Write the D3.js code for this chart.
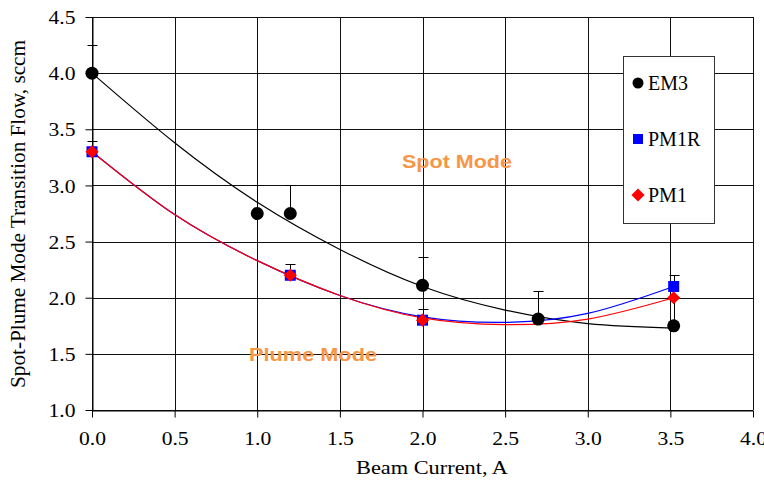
<!DOCTYPE html>
<html>
<head>
<meta charset="utf-8">
<script src="https://cdn.jsdelivr.net/npm/d3@7"></script>
<style>
  body { margin: 0; background: #fff; }
  svg text { font-family: "Liberation Serif", "Times New Roman", Times, "DejaVu Serif", serif; }
</style>
</head>
<body>
<svg id="chart" width="764" height="480"></svg>
<script>
// measured points
var em3_x   = [0, 1.0, 1.2, 2.0, 2.7, 3.52],
    em3_y   = [4.0, 2.75, 2.75, 2.11, 1.81, 1.75],
    em3_err = [0.25, 0.25, 0.25, 0.25, 0.25, 0.25];

var pm1r_x   = [0, 1.2, 2.0, 3.52],
    pm1r_y   = [3.3, 2.2, 1.8, 2.1],
    pm1r_err = [0.1, 0.1, 0.1, 0.1];

var pm1_x = [0, 1.2, 2.0, 3.52],
    pm1_y = [3.3, 2.2, 1.8, 2.0];

// trend lines
var trend_x      = [0, 0.5, 1.0, 1.5, 2.0, 2.5, 3.0, 3.52],
    em3_trend    = [4.0, 3.38, 2.85, 2.43, 2.10, 1.89, 1.77, 1.73],
    pm1r_trend   = [3.3, 2.74, 2.33, 2.02, 1.83, 1.78, 1.86, 2.1],
    pm1_trend    = [3.3, 2.74, 2.33, 2.02, 1.82, 1.76, 1.81, 2.0];

var x_ticks = [0, 0.5, 1.0, 1.5, 2.0, 2.5, 3.0, 3.5, 4.0],
    y_ticks = [1.0, 1.5, 2.0, 2.5, 3.0, 3.5, 4.0, 4.5];

var legend_names = ["EM3", "PM1R", "PM1"];

var serif = "'Liberation Serif', 'Times New Roman', Times, 'DejaVu Serif', serif";

var svg = d3.select("#chart");

var plot_left = 92, plot_right = 753, plot_top = 17, plot_bottom = 410;

var x_scale = d3.scaleLinear().domain([0, 4]).range([plot_left, plot_right]),
    y_scale = d3.scaleLinear().domain([1, 4.5]).range([plot_bottom, plot_top]);

// grid
var grid = svg.append("g");
grid.selectAll(".vgrid")
    .data(x_ticks)
    .enter()
    .append("line")
    .attr("x1", d=>Math.round(x_scale(d)) + 0.5)
    .attr("x2", d=>Math.round(x_scale(d)) + 0.5)
    .attr("y1", plot_top)
    .attr("y2", plot_bottom)
    .style("stroke", "#111")
    .style("stroke-width", 1);
grid.selectAll(".hgrid")
    .data(y_ticks)
    .enter()
    .append("line")
    .attr("x1", plot_left)
    .attr("x2", plot_right)
    .attr("y1", d=>Math.round(y_scale(d)) + 0.5)
    .attr("y2", d=>Math.round(y_scale(d)) + 0.5)
    .style("stroke", "#111")
    .style("stroke-width", 1);

// axes
var x_axis = svg.append("g")
    .attr("transform", "translate(0," + (plot_bottom + 0.5) + ")")
    .call(d3.axisBottom(x_scale).tickValues(x_ticks).tickFormat(d3.format(".1f")).tickSizeInner(7).tickSizeOuter(0).tickPadding(14));
var y_axis = svg.append("g")
    .attr("transform", "translate(" + (plot_left + 0.5) + ",0)")
    .call(d3.axisLeft(y_scale).tickValues(y_ticks).tickFormat(d3.format(".1f")).tickSizeInner(7).tickSizeOuter(0).tickPadding(10));

[x_axis, y_axis].forEach(a=>{
	a.attr("font-family", null).attr("font-size", null);
	a.select(".domain").style("stroke", "#000");
	a.selectAll(".tick line").style("stroke", "#000");
	a.selectAll(".tick text")
	 .style("font-family", serif)
	 .style("font-size", "19px")
	 .style("fill", "#000")
	 .attr("textLength", 27)
	 .attr("lengthAdjust", "spacingAndGlyphs");
});
y_axis.selectAll(".tick text").attr("dy", "0.35em");

// axis titles
svg.append("text")
   .attr("x", 432)
   .attr("y", 474)
   .attr("text-anchor", "middle")
   .attr("textLength", 152)
   .attr("lengthAdjust", "spacingAndGlyphs")
   .style("font-family", serif)
   .style("font-size", "19px")
   .text("Beam Current, A");
svg.append("text")
   .attr("transform", "translate(25,214) rotate(-90)")
   .attr("text-anchor", "middle")
   .attr("textLength", 348)
   .attr("lengthAdjust", "spacingAndGlyphs")
   .style("font-family", serif)
   .style("font-size", "20px")
   .text("Spot-Plume Mode Transition Flow, sccm");

// trend lines
var line = d3.line()
    .x(d=>x_scale(d[0]))
    .y(d=>y_scale(d[1]))
    .curve(d3.curveNatural);

[[em3_trend, "#000"], [pm1r_trend, "#0000ff"], [pm1_trend, "#ff0000"]].forEach(t=>{
	svg.append("path")
	   .attr("d", line(trend_x.map((x, i)=>[x, t[0][i]])))
	   .style("fill", "none")
	   .style("stroke", t[1])
	   .style("stroke-width", 1.2);
});

// region labels
svg.append("text")
   .attr("x", 457).attr("y", 168)
   .attr("text-anchor", "middle")
   .attr("textLength", 110)
   .attr("lengthAdjust", "spacingAndGlyphs")
   .style("font-family", "'Liberation Sans', Arial, sans-serif")
   .style("font-weight", "bold")
   .style("font-size", "18px")
   .style("fill", "#f79646")
   .text("Spot Mode");
svg.append("text")
   .attr("x", 313).attr("y", 361)
   .attr("text-anchor", "middle")
   .attr("textLength", 128)
   .attr("lengthAdjust", "spacingAndGlyphs")
   .style("font-family", "'Liberation Sans', Arial, sans-serif")
   .style("font-weight", "bold")
   .style("font-size", "18px")
   .style("fill", "#f79646")
   .text("Plume Mode");

// error bars (plus side only)
function error_bars (xs, ys, errs) {
	var g = svg.append("g");
	xs.forEach((x, i)=>{
		var px = Math.round(x_scale(x)) + 0.5;
		g.append("line")
		 .attr("x1", px).attr("x2", px)
		 .attr("y1", y_scale(ys[i]))
		 .attr("y2", y_scale(ys[i] + errs[i]))
		 .style("stroke", "#000");
		g.append("line")
		 .attr("x1", px - 5).attr("x2", px + 5)
		 .attr("y1", Math.round(y_scale(ys[i] + errs[i])) + 0.5)
		 .attr("y2", Math.round(y_scale(ys[i] + errs[i])) + 0.5)
		 .style("stroke", "#000");
	});
}
error_bars(em3_x, em3_y, em3_err);
error_bars(pm1r_x, pm1r_y, pm1r_err);

// markers
svg.selectAll(".em3-dots")
   .data(em3_x.map((x, i)=>[x, em3_y[i]]))
   .enter()
   .append("circle")
   .attr("cx", d=>x_scale(d[0]))
   .attr("cy", d=>y_scale(d[1]))
   .attr("r", 6.5)
   .style("fill", "#000");
svg.selectAll(".pm1r-dots")
   .data(pm1r_x.map((x, i)=>[x, pm1r_y[i]]))
   .enter()
   .append("rect")
   .attr("x", d=>x_scale(d[0]) - 5.5)
   .attr("y", d=>y_scale(d[1]) - 5.5)
   .attr("width", 11)
   .attr("height", 11)
   .style("fill", "#0000ff");
var diamond = d3.symbol().type(d3.symbolDiamond2).size(110);
svg.selectAll(".pm1-dots")
   .data(pm1_x.map((x, i)=>[x, pm1_y[i]]))
   .enter()
   .append("path")
   .attr("d", diamond)
   .attr("transform", d=>"translate(" + x_scale(d[0]) + "," + y_scale(d[1]) + ")")
   .style("fill", "#ff0000");

// legend
var legend = svg.append("g");
legend.append("rect")
      .attr("x", 623.5).attr("y", 56.5)
      .attr("width", 91).attr("height", 167)
      .style("fill", "#fff")
      .style("stroke", "#333");
var legend_y = [83, 139, 195];
legend.append("circle").attr("cx", 638).attr("cy", legend_y[0]).attr("r", 5.5).style("fill", "#000");
legend.append("rect").attr("x", 633).attr("y", legend_y[1] - 5).attr("width", 10).attr("height", 10).style("fill", "#0000ff");
legend.append("path").attr("d", diamond).attr("transform", "translate(638," + legend_y[2] + ")").style("fill", "#ff0000");
legend.selectAll(".legend-text")
      .data(legend_names)
      .enter()
      .append("text")
      .attr("x", 648)
      .attr("y", (d, i)=>legend_y[i] + 7)
      .style("font-family", serif)
      .style("font-size", "20px")
      .style("fill", "#000")
      .text(d=>d);
</script>
</body>
</html>
